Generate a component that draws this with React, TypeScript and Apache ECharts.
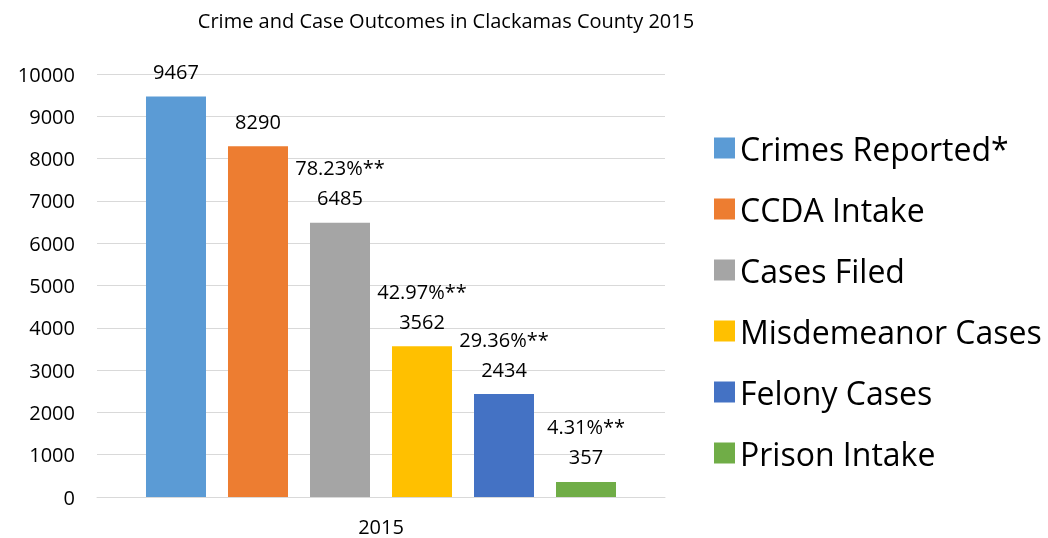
import React, { useEffect, useRef } from "react";
import * as echarts from "echarts";

const categories = ["2015"];
const seriesNames = ["Crimes Reported*", "CCDA Intake", "Cases Filed", "Misdemeanor Cases", "Felony Cases", "Prison Intake"];
const seriesValues = [9467, 8290, 6485, 3562, 2434, 357];
const percentLabels = ["", "", "78.23%**", "42.97%**", "29.36%**", "4.31%**"];
const colors = ["#5B9BD5", "#ED7D31", "#A5A5A5", "#FFC000", "#4472C4", "#70AD47"];
const yTicks = { min: 0, max: 10000, interval: 1000 };

const FONT = "Open Sans";

export default function App() {
  const ref = useRef<HTMLDivElement>(null);
  useEffect(() => {
    const chart = echarts.init(ref.current!, null, { renderer: "svg" });
    chart.setOption({
      animation: false,
      title: {
        text: "Crime and Case Outcomes in Clackamas County 2015",
        left: 441,
        textAlign: "center",
        top: 5,
        textStyle: { fontFamily: FONT, fontSize: 20, fontWeight: "normal", color: "#000" },
      },
      legend: {
        orient: "vertical",
        left: 709,
        top: 123,
        itemWidth: 21,
        itemHeight: 21,
        itemGap: 21,
        icon: "rect",
        textStyle: { fontFamily: FONT, fontSize: 32, color: "#000", lineHeight: 40 },
        data: seriesNames,
      },
      grid: { left: 97, right: 1048 - 665, top: 74, bottom: 538 - 497 },
      xAxis: {
        type: "category",
        data: categories,
        axisLine: { lineStyle: { color: "#d9d9d9", width: 1 } },
        axisTick: { show: false },
        axisLabel: { fontFamily: FONT, fontSize: 20, lineHeight: 18, color: "#000", margin: 20 },
      },
      yAxis: {
        type: "value",
        min: yTicks.min,
        max: yTicks.max,
        interval: yTicks.interval,
        axisLine: { show: false },
        axisTick: { show: false },
        splitLine: { lineStyle: { color: "#d9d9d9", width: 1 } },
        axisLabel: { fontFamily: FONT, fontSize: 20, color: "#000", margin: 22, formatter: (v: number) => String(v) },
      },
      series: seriesNames.map((name, i) => ({
        name,
        type: "bar",
        barWidth: 60,
        barGap: "36.67%",
        itemStyle: { color: colors[i] },
        data: [seriesValues[i]],
        label: {
          show: true,
          position: "top",
          distance: 10,
          fontFamily: FONT,
          fontSize: 20,
          lineHeight: 30,
          color: "#000",
          formatter: () => (percentLabels[i] ? percentLabels[i] + "\n" : "") + String(seriesValues[i]),
        },
      })),
    });
    return () => chart.dispose();
  }, []);
  return <div ref={ref} style={{ position: "fixed", left: 0, top: 0, width: 1048, height: 538 }} />;
}
